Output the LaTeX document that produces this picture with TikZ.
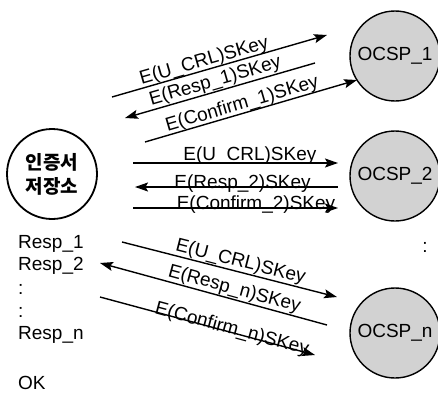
\documentclass[tikz,border=0pt]{standalone}
\usepackage{fontspec}
\setmainfont{Liberation Sans}
\newfontfamily\krfont{Noto Sans CJK KR}
\usetikzlibrary{arrows.meta,calc}
\begin{document}
\begin{tikzpicture}[x=1pt,y=-1pt,
  txt/.style={font=\fontsize{19}{22}\selectfont, inner sep=0pt},
  ocsp/.style={circle, draw, line width=1.4pt, fill=gray!35, minimum size=90pt, inner sep=0pt, font=\fontsize{19}{22}\selectfont},
  store/.style={circle, draw, line width=1.8pt, minimum size=90pt, inner sep=0pt, align=center, font=\krfont\bfseries\fontsize{19}{24}\selectfont},
  msgr/.style={line width=1.4pt, -{Stealth[length=13pt,width=9pt,inset=2.5pt]}},
  msgl/.style={line width=1.4pt, {Stealth[length=13pt,width=9pt,inset=2.5pt]}-},
  lbl/.style={sloped, anchor=base, inner sep=0pt, font=\fontsize{19}{22}\selectfont}]
\useasboundingbox (0,0) rectangle (438,396);
% nodes
\node[store] (st) at (52,174) {인증서\\저장소};
\node[ocsp] (o1) at (395,56) {OCSP\_1};
\node[ocsp] (o2) at (395,176) {OCSP\_2};
\node[ocsp] (on) at (395,333) {OCSP\_n};
\node[txt] (rdots) at (425,247) {:};
\node[txt, anchor=west] (r1) at (18,244) {Resp\_1};
\node[txt, anchor=west] (r2) at (18,266) {Resp\_2};
\node[txt, anchor=west] (c1) at (18,289) {:};
\node[txt, anchor=west] (c2) at (18,312) {:};
\node[txt, anchor=west] (rn) at (18,335) {Resp\_n};
\node[txt, anchor=west] (ok) at (18,383) {OK};
% group 1
\coordinate (a1) at (112,97);  \coordinate (b1) at (327,35);
\coordinate (a2) at (125,118); \coordinate (b2) at (315,63);
\coordinate (a3) at (145,142); \coordinate (b3) at (357,80);
\draw[msgr] (a1) -- node[lbl, pos=0.44, yshift=4pt] {E(U\_CRL)SKey} (b1);
\draw[msgl] (a2) -- node[lbl, pos=0.49, yshift=5pt] {E(Resp\_1)SKey} (b2);
\draw[msgr] (a3) -- node[lbl, pos=0.47, yshift=4pt] {E(Confirm\_1)SKey} (b3);
% group 2
\coordinate (a4) at (133,163); \coordinate (b4) at (338,163);
\coordinate (a5) at (135,187); \coordinate (b5) at (338,187);
\coordinate (a6) at (133,208); \coordinate (b6) at (338,208);
\draw[msgr] (a4) -- node[lbl, pos=0.57, yshift=3pt] {E(U\_CRL)SKey} (b4);
\draw[msgl] (a5) -- node[lbl, pos=0.53, yshift=-1pt] {E(Resp\_2)SKey} (b5);
\draw[msgr] (a6) -- node[lbl, pos=0.6, yshift=-1pt] {E(Confirm\_2)SKey} (b6);
% group n
\coordinate (a7) at (122,242); \coordinate (b7) at (337,297);
\coordinate (a8) at (100,263); \coordinate (b8) at (327,325);
\coordinate (a9) at (100,297); \coordinate (b9) at (315,355);
\draw[msgr] (a7) -- node[lbl, pos=0.54, yshift=5pt] {E(U\_CRL)SKey} (b7);
\draw[msgl] (a8) -- node[lbl, pos=0.58, yshift=5pt] {E(Resp\_n)SKey} (b8);
\draw[msgr] (a9) -- node[lbl, pos=0.61, yshift=-2pt] {E(Confirm\_n)SKey} (b9);
\end{tikzpicture}
\end{document}
